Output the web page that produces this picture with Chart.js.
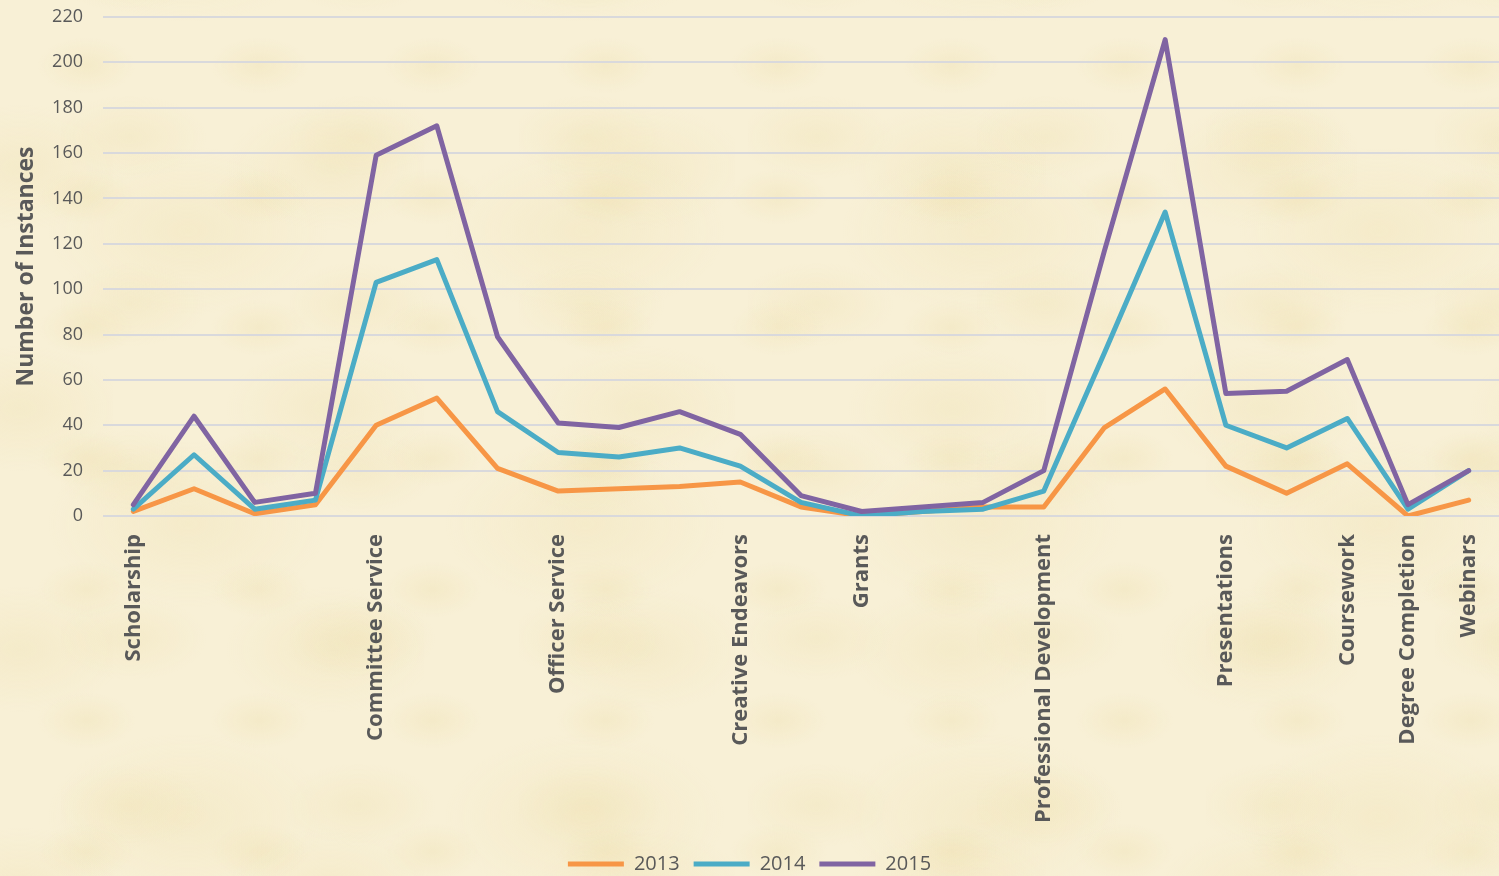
<!DOCTYPE html>
<html>
<head>
<meta charset="utf-8">
<title>Number of Instances</title>
<script src="https://cdn.jsdelivr.net/npm/chart.js@4.4.1/dist/chart.umd.min.js"></script>
<style>
  html, body { margin: 0; padding: 0; }
  body {
    width: 1499px; height: 876px; overflow: hidden;
    /* parchment look: layered soft mottles over a cream base */
    background-color: #f8f0d6;
    background-image:
      radial-gradient(ellipse 70px 40px at 50% 50%, rgba(232,214,152,0.22), transparent 70%),
      radial-gradient(ellipse 110px 60px at 30% 60%, rgba(232,214,152,0.20), transparent 70%),
      radial-gradient(ellipse 150px 90px at 70% 40%, rgba(232,214,152,0.20), transparent 70%),
      radial-gradient(ellipse 200px 120px at 40% 30%, rgba(236,220,165,0.25), transparent 70%);
    background-size: 173px 131px, 229px 167px, 311px 241px, 397px 293px;
    background-position: 0 0, 61px 37px, 113px 71px, 29px 143px;
  }
  #wrap { position: relative; width: 1499px; height: 876px; }
</style>
</head>
<body>
<div id="wrap"><canvas id="lineChart"></canvas></div>
<script>
// categories (only some carry a label on the axis)
var categories = ["Scholarship", "", "", "", "Committee Service", "", "", "Officer Service", "", "",
  "Creative Endeavors", "", "Grants", "", "", "Professional Development", "", "", "Presentations", "",
  "Coursework", "Degree Completion", "Webinars"];

var years = ["2013", "2014", "2015"];

var values2013 = [2, 12, 1, 5, 40, 52, 21, 11, 12, 13, 15, 4, 0, 2, 4, 4, 39, 56, 22, 10, 23, 0, 7];
var values2014 = [3, 27, 3, 7, 103, 113, 46, 28, 26, 30, 22, 6, 0, 2, 3, 11, 72, 134, 40, 30, 43, 3, 20];
var values2015 = [5, 44, 6, 10, 159, 172, 79, 41, 39, 46, 36, 9, 2, 4, 6, 20, 117, 210, 54, 55, 69, 5, 20];

var yTicks = [0, 20, 40, 60, 80, 100, 120, 140, 160, 180, 200, 220];

var colors = ["#F79646", "#4BACC6", "#8064A2"];
var textColor = "#595959";

function lineSet(label, data, color, order) {
  return {
    label: label,
    data: data,
    borderColor: color,
    backgroundColor: color,
    borderWidth: 5,
    borderJoinStyle: "round",
    borderCapStyle: "round",
    pointRadius: 0,
    pointHoverRadius: 0,
    tension: 0,
    fill: false,
    order: order
  };
}

var ctx = document.getElementById("lineChart");
var myChart = new Chart(ctx, {
  type: "line",
  data: {
    labels: categories,
    datasets: [
      lineSet(years[0], values2013, colors[0], 3),
      lineSet(years[1], values2014, colors[1], 2),
      lineSet(years[2], values2015, colors[2], 1)
    ]
  },
  options: {
    responsive: true,
    maintainAspectRatio: false,
    animation: false,
    layout: { padding: { top: 0, right: 0, bottom: -8, left: 0 } },
    plugins: {
      tooltip: { enabled: false },
      legend: {
        position: "bottom",
        labels: {
          usePointStyle: true,
          pointStyle: "line",
          pointStyleWidth: 56,
          boxHeight: 20,
          padding: 14,
          color: textColor,
          font: { family: "'Open Sans', sans-serif", size: 20 },
          sort: function (a, b) { return a.datasetIndex - b.datasetIndex; }
        }
      }
    },
    scales: {
      x: {
        offset: true,
        grid: { display: false, drawTicks: false },
        border: { display: false },
        ticks: {
          autoSkip: false,
          minRotation: 90,
          maxRotation: 90,
          padding: 18,
          color: textColor,
          font: { family: "'Open Sans', sans-serif", size: 22, weight: "bold" }
        },
        afterFit: function (scale) {
          scale.height = 324;
          scale.paddingLeft = 0;
          scale.paddingRight = 0;
        }
      },
      y: {
        min: 0,
        max: 220,
        afterBuildTicks: function (scale) {
          scale.ticks = yTicks.map(function (v) { return { value: v }; });
        },
        grid: { color: "#D9D9DC", lineWidth: 2, drawTicks: false },
        border: { display: false },
        ticks: {
          padding: 20,
          color: textColor,
          font: { family: "'Open Sans', sans-serif", size: 18 }
        },
        title: {
          display: true,
          text: "Number of Instances",
          color: textColor,
          padding: { top: 13, bottom: 0 },
          font: { family: "'Open Sans', sans-serif", size: 23, weight: "bold" }
        },
        afterFit: function (scale) {
          scale.width = 103;
          scale.paddingTop = 17;
          scale.paddingBottom = 0;
        }
      }
    }
  }
});
</script>
</body>
</html>
